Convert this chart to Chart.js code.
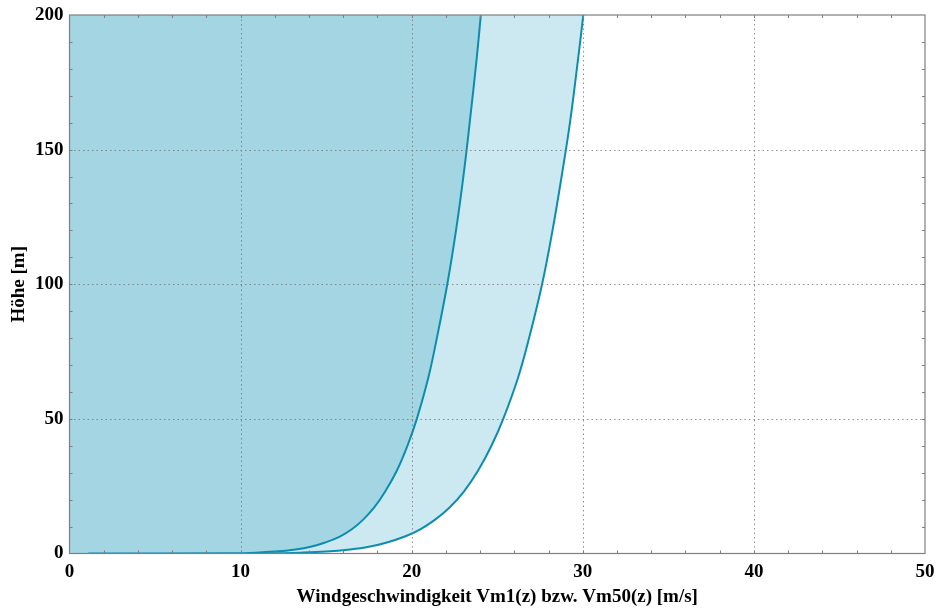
<!DOCTYPE html>
<html>
<head>
<meta charset="utf-8">
<script src="https://cdn.jsdelivr.net/npm/chart.js@4.4.1/dist/chart.umd.min.js"></script>
<style>
  html, body { margin: 0; padding: 0; background: #fff; }
  #wrap { width: 936px; height: 613px; }
</style>
</head>
<body>
<div id="wrap"><canvas id="windChart" width="936" height="613"></canvas></div>
<script>
// Höhe z [m]
const heights = [0, 0.1, 0.3, 0.7, 1.5, 2.5, 4, 6.3, 9, 12.5, 17, 23, 31, 40, 50, 65, 80, 100, 120, 140, 160, 184, 200];
// Vm1(z) [m/s]
const vm1 = [1.1, 9.5, 10.9, 12.0, 13.2, 14.1, 14.9, 15.8, 16.5, 17.15, 17.8, 18.45, 19.15, 19.75, 20.3, 20.96, 21.47, 22.08, 22.59, 23.02, 23.39, 23.8, 24.04];
// Vm50(z) [m/s]
const vm50 = [1.4, 11.8, 13.5, 15.0, 16.4, 17.5, 18.5, 19.6, 20.5, 21.35, 22.2, 23.05, 23.9, 24.66, 25.35, 26.2, 26.86, 27.62, 28.23, 28.76, 29.25, 29.73, 30.03];

const xTicks = [0, 10, 20, 30, 40, 50];
const yTicks = [0, 50, 100, 150, 200];

const lineColor = "#0b8db1";
const font = { family: "'Liberation Serif', 'DejaVu Serif', serif", size: 19, weight: "bold" };

function toPoints(xs) {
  return heights.map((z, i) => ({ x: xs[i], y: z }));
}

// Frame, dotted grid and inner ticks drawn on top of the fills
const framePlugin = {
  id: "frame",
  afterDatasetsDraw(chart) {
    const { ctx, chartArea: a, scales } = chart;
    const xs = scales.x, ys = scales.y;
    ctx.save();
    ctx.lineWidth = 1;
    ctx.strokeStyle = "rgba(110,110,110,0.75)";
    ctx.setLineDash([1.5, 3]);
    xTicks.slice(1, -1).forEach((v) => {
      const px = Math.round(xs.getPixelForValue(v)) + 0.5;
      ctx.beginPath(); ctx.moveTo(px, a.top); ctx.lineTo(px, a.bottom); ctx.stroke();
    });
    yTicks.slice(1, -1).forEach((v) => {
      const py = Math.round(ys.getPixelForValue(v)) + 0.5;
      ctx.beginPath(); ctx.moveTo(a.left, py); ctx.lineTo(a.right, py); ctx.stroke();
    });
    ctx.setLineDash([]);
    ctx.strokeStyle = "#7f7f7f";
    for (let v = 2; v < 50; v += 2) {
      const px = Math.round(xs.getPixelForValue(v)) + 0.5;
      ctx.beginPath();
      ctx.moveTo(px, a.bottom); ctx.lineTo(px, a.bottom - 3);
      ctx.moveTo(px, a.top); ctx.lineTo(px, a.top + 3);
      ctx.stroke();
    }
    for (let v = 10; v < 200; v += 10) {
      const py = Math.round(ys.getPixelForValue(v)) + 0.5;
      ctx.beginPath();
      ctx.moveTo(a.left, py); ctx.lineTo(a.left + 3, py);
      ctx.moveTo(a.right, py); ctx.lineTo(a.right - 3, py);
      ctx.stroke();
    }
    ctx.lineWidth = 1.2;
    ctx.strokeRect(a.left, a.top, a.right - a.left, a.bottom - a.top);
    ctx.restore();
  },
};

const ctx = document.getElementById("windChart").getContext("2d");
const chart = new Chart(ctx, {
  type: "line",
  data: {
    datasets: [
      {
        label: "Vm1(z)",
        data: toPoints(vm1),
        borderColor: lineColor,
        borderWidth: 2,
        backgroundColor: "#a3d5e3",
        fill: { value: 0 },
        pointRadius: 0,
        tension: 0.4,
      },
      {
        label: "Vm50(z)",
        data: toPoints(vm50),
        borderColor: lineColor,
        borderWidth: 2,
        backgroundColor: "#cce8f0",
        fill: { value: 0 },
        pointRadius: 0,
        tension: 0.4,
      },
    ],
  },
  options: {
    indexAxis: "y",
    responsive: false,
    animation: false,
    layout: { padding: { top: 15, right: 11, left: 0, bottom: 0 } },
    plugins: { legend: { display: false }, tooltip: { enabled: false } },
    scales: {
      x: {
        type: "linear",
        min: 0,
        max: 50,
        grid: { display: false, drawTicks: false },
        border: { display: false },
        ticks: { stepSize: 10, color: "#000", font: font, padding: 7, maxRotation: 0 },
        title: {
          display: true,
          text: "Windgeschwindigkeit Vm1(z) bzw. Vm50(z) [m/s]",
          color: "#000",
          font: font,
          padding: { top: 0, bottom: 5 },
        },
        afterFit: (s) => { s.height = 59.5; s.paddingRight = 0; s.paddingLeft = 0; },
      },
      y: {
        type: "linear",
        min: 0,
        max: 200,
        grid: { display: false, drawTicks: false },
        border: { display: false },
        ticks: { stepSize: 50, color: "#000", font: font, padding: 6 },
        title: {
          display: true,
          text: "Höhe [m]",
          color: "#000",
          font: font,
          padding: { top: 8, bottom: 0 },
        },
        afterFit: (s) => { s.width = 69.5; s.paddingTop = 0; s.paddingBottom = 0; },
      },
    },
  },
  plugins: [framePlugin],
});
</script>
</body>
</html>
